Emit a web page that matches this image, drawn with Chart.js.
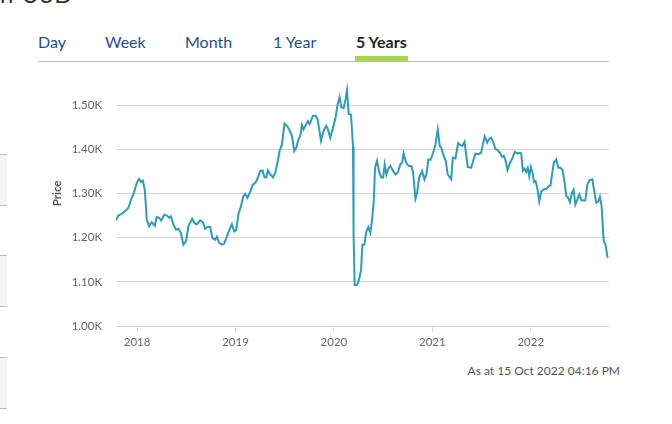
<!DOCTYPE html>
<html>
<head>
<meta charset="utf-8">
<script src="https://cdn.jsdelivr.net/npm/chart.js@4.4.1/dist/chart.umd.min.js"></script>
<style>
    body { margin: 0; width: 672px; height: 424px; background: #fff; font-family: Lato, sans-serif; position: relative; overflow: hidden; }
    .cut { position: absolute; left: 0; top: -21px; font-size: 24px; color: #333; letter-spacing: 1px; }
    .tabs { position: absolute; left: 38px; top: 32px; width: 571px; height: 29px; border-bottom: 1.5px solid #b9bdd0; }
    .tab { position: absolute; top: 0; font-size: 16px; color: #1f4e8c; }
    .tab.active { color: #222; font-weight: bold; }
    .tab.active:after { content: ""; position: absolute; left: -1px; right: -1px; top: 24px; height: 5px; background: #a6d93a; }
    .side { position: absolute; left: 0; width: 7px; height: 50px; background: #f6f6f6; border-top: 1px solid #b3b7d3; border-bottom: 1px solid #b3b7d3; }
    .stamp { position: absolute; right: 52px; top: 363px; font-size: 12px; color: #555; }
    #wrap { position: absolute; left: 40px; top: 40px; width: 580px; height: 315px; }
</style>
</head>
<body>
<div class="cut">n USD</div>
<div class="tabs">
    <span class="tab" style="left:0px">Day</span>
    <span class="tab" style="left:67px">Week</span>
    <span class="tab" style="left:147px">Month</span>
    <span class="tab" style="left:235px">1 Year</span>
    <span class="tab active" style="left:318px">5 Years</span>
</div>
<div class="side" style="top:154px"></div>
<div class="side" style="top:255px"></div>
<div class="side" style="top:357px"></div>
<div class="stamp">As at 15 Oct 2022 04:16 PM</div>
<div id="wrap"><canvas id="priceChart"></canvas></div>
<script>
// dates as decimal years
const dates = [
    2017.786, 2017.810, 2017.844, 2017.878, 2017.911, 2017.939, 2017.969, 2017.997, 2018.020, 2018.041,
    2018.058, 2018.078, 2018.099, 2018.122, 2018.150, 2018.166, 2018.180, 2018.200, 2018.224, 2018.244,
    2018.278, 2018.302, 2018.329, 2018.343, 2018.369, 2018.397, 2018.420, 2018.445, 2018.471, 2018.498,
    2018.522, 2018.560, 2018.583, 2018.607, 2018.641, 2018.668, 2018.692, 2018.715, 2018.743, 2018.766,
    2018.793, 2018.811, 2018.834, 2018.862, 2018.885, 2018.913, 2018.939, 2018.963, 2018.987, 2019.007,
    2019.031, 2019.053, 2019.081, 2019.099, 2019.122, 2019.150, 2019.177, 2019.203, 2019.228, 2019.251,
    2019.275, 2019.295, 2019.312, 2019.330, 2019.353, 2019.380, 2019.404, 2019.431, 2019.448, 2019.472,
    2019.498, 2019.523, 2019.549, 2019.574, 2019.597, 2019.618, 2019.641, 2019.658, 2019.675, 2019.692,
    2019.719, 2019.737, 2019.753, 2019.787, 2019.814, 2019.834, 2019.848, 2019.869, 2019.895, 2019.923,
    2019.940, 2019.963, 2019.991, 2020.017, 2020.038, 2020.058, 2020.075, 2020.099, 2020.119, 2020.133,
    2020.150, 2020.174, 2020.194, 2020.200, 2020.211, 2020.235, 2020.255, 2020.276, 2020.289, 2020.309,
    2020.330, 2020.350, 2020.370, 2020.388, 2020.404, 2020.418, 2020.438, 2020.462, 2020.482, 2020.500,
    2020.516, 2020.533, 2020.550, 2020.574, 2020.601, 2020.625, 2020.648, 2020.675, 2020.693, 2020.709,
    2020.733, 2020.760, 2020.787, 2020.805, 2020.828, 2020.845, 2020.866, 2020.896, 2020.920, 2020.940,
    2020.960, 2020.981, 2021.008, 2021.032, 2021.055, 2021.075, 2021.093, 2021.116, 2021.136, 2021.157,
    2021.191, 2021.208, 2021.235, 2021.262, 2021.286, 2021.306, 2021.327, 2021.360, 2021.395, 2021.415,
    2021.438, 2021.472, 2021.496, 2021.517, 2021.533, 2021.557, 2021.576, 2021.598, 2021.618, 2021.642,
    2021.665, 2021.686, 2021.710, 2021.726, 2021.744, 2021.764, 2021.787, 2021.812, 2021.838, 2021.863,
    2021.886, 2021.903, 2021.920, 2021.937, 2021.954, 2021.970, 2021.985, 2022.001, 2022.018, 2022.032,
    2022.049, 2022.066, 2022.086, 2022.107, 2022.133, 2022.161, 2022.184, 2022.201, 2022.219, 2022.235,
    2022.259, 2022.280, 2022.303, 2022.323, 2022.344, 2022.361, 2022.381, 2022.398, 2022.418, 2022.435,
    2022.453, 2022.473, 2022.493, 2022.514, 2022.534, 2022.554, 2022.575, 2022.598, 2022.626, 2022.642,
    2022.666, 2022.687, 2022.703, 2022.720, 2022.741, 2022.758, 2022.781
];
const prices = [
    1239, 1250, 1254, 1260, 1267, 1286, 1302, 1324, 1333, 1326,
    1329, 1309, 1241, 1226, 1235, 1230, 1227, 1247, 1245, 1239,
    1252, 1250, 1245, 1248, 1230, 1218, 1220, 1211, 1184, 1192,
    1226, 1243, 1233, 1230, 1239, 1235, 1220, 1224, 1224, 1199,
    1195, 1202, 1188, 1184, 1186, 1203, 1218, 1230, 1214, 1217,
    1254, 1269, 1295, 1299, 1290, 1304, 1320, 1324, 1336, 1351,
    1352, 1336, 1336, 1352, 1343, 1336, 1347, 1374, 1396, 1411,
    1458, 1453, 1443, 1430, 1396, 1404, 1423, 1430, 1455, 1445,
    1457, 1464, 1457, 1476, 1476, 1468, 1449, 1419, 1442, 1453,
    1445, 1426, 1449, 1472, 1502, 1518, 1495, 1493, 1514, 1534,
    1480, 1478, 1406, 1203, 1093, 1093, 1105, 1127, 1184, 1184,
    1214, 1224, 1211, 1241, 1279, 1358, 1374, 1347, 1336, 1336,
    1366, 1343, 1355, 1362, 1351, 1343, 1347, 1366, 1370, 1390,
    1370, 1362, 1362, 1347, 1288, 1301, 1336, 1351, 1332, 1343,
    1377, 1376, 1392, 1411, 1445, 1408, 1402, 1385, 1374, 1343,
    1332, 1381, 1379, 1414, 1409, 1408, 1417, 1360, 1358, 1374,
    1390, 1389, 1392, 1415, 1429, 1415, 1423, 1426, 1417, 1400,
    1398, 1392, 1383, 1385, 1374, 1353, 1368, 1379, 1394, 1390,
    1392, 1391, 1351, 1356, 1349, 1358, 1339, 1360, 1347, 1326,
    1328, 1313, 1282, 1305, 1309, 1311, 1317, 1318, 1347, 1370,
    1377, 1358, 1358, 1353, 1324, 1294, 1290, 1280, 1301, 1309,
    1275, 1286, 1298, 1285, 1284, 1284, 1320, 1330, 1332, 1309,
    1279, 1282, 1292, 1271, 1192, 1186, 1154
];
const yearTicks = [2018, 2019, 2020, 2021, 2022];
const priceTicks = [1000, 1100, 1200, 1300, 1400, 1500];

const points = dates.map((d, i) => ({ x: d, y: prices[i] }));
const gridGray = '#d6d6d6';
const labelGray = '#666';

const ctx = document.getElementById('priceChart').getContext('2d');
const priceChart = new Chart(ctx, {
    type: 'line',
    data: {
        datasets: [{
            label: 'Price',
            data: points,
            borderColor: '#2f9bbb',
            borderWidth: 2,
            pointRadius: 0,
            tension: 0,
            fill: false
        }]
    },
    options: {
        responsive: true,
        maintainAspectRatio: false,
        animation: false,
        layout: { padding: { top: 6, right: 11, left: 0, bottom: 0 } },
        plugins: {
            legend: { display: false },
            tooltip: { enabled: false }
        },
        scales: {
            x: {
                type: 'linear',
                min: 2017.786,
                max: 2022.795,
                afterBuildTicks: function (scale) {
                    scale.ticks = yearTicks.map(v => ({ value: v }));
                },
                afterFit: function (scale) {
                    scale.height = 29;
                },
                grid: {
                    drawOnChartArea: false,
                    drawTicks: true,
                    tickLength: 6,
                    color: gridGray
                },
                border: { display: true, color: gridGray },
                ticks: {
                    padding: 3,
                    color: labelGray,
                    font: { family: 'Lato', size: 11.5 },
                    maxRotation: 0,
                    callback: v => String(v)
                }
            },
            y: {
                min: 1000,
                max: 1600,
                afterBuildTicks: function (scale) {
                    scale.ticks = priceTicks.map(v => ({ value: v }));
                },
                afterFit: function (scale) {
                    scale.width = 76;
                },
                grid: {
                    color: gridGray,
                    drawTicks: false
                },
                border: { display: false },
                title: {
                    display: true,
                    text: 'Price',
                    color: '#555',
                    font: { family: 'Lato', size: 11.5, weight: 'bold' },
                    padding: { top: 10, bottom: 0 }
                },
                ticks: {
                    padding: 14,
                    color: labelGray,
                    font: { family: 'Lato', size: 11.5 },
                    callback: v => (v / 1000).toFixed(2) + 'K'
                }
            }
        }
    }
});
</script>
</body>
</html>
